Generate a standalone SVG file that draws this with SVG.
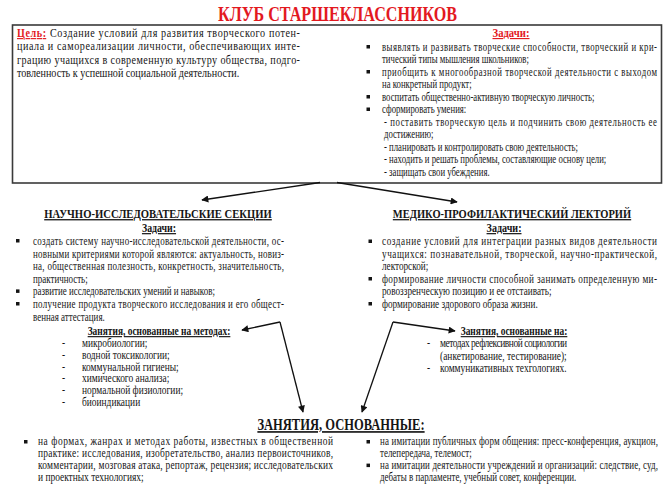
<svg xmlns="http://www.w3.org/2000/svg" width="667" height="492" viewBox="0 0 667 492">
<defs>
<style>
.t{font-family:"Liberation Serif","Times New Roman",serif;font-size:11.5px;fill:#151515}
.b{font-weight:bold}
.u{text-decoration:underline}
.red{fill:#e3191f}
.h{font-family:"Liberation Serif","Times New Roman",serif;font-weight:bold;fill:#151515;text-decoration:underline}
.bul{fill:#151515}
.box{fill:#fff;stroke:#3a3a3a;stroke-width:1.6}
.con{stroke:#111;stroke-width:1.3;fill:none;marker-end:url(#ah)}
</style>
<marker id="ah" viewBox="0 0 10 10" refX="9" refY="5" markerWidth="9" markerHeight="7" markerUnits="userSpaceOnUse" orient="auto">
<path d="M0,0 L10,5 L0,10 z" fill="#111"/>
</marker>
</defs>
<rect width="667" height="492" fill="#fff"/>

<g id="title">
<text x="218" y="21" font-family="Liberation Serif, Times New Roman, serif" font-weight="bold" font-size="20" fill="#e3191f" textLength="239" lengthAdjust="spacingAndGlyphs">КЛУБ СТАРШЕКЛАССНИКОВ</text>
</g>

<g id="club">
<rect class="box" x="12.5" y="25" width="649" height="158"/>
<g transform="translate(17 0) scale(0.88 1)">
<text class="t" x="0" y="37" font-size="12" textLength="321.6" lengthAdjust="spacing"><tspan class="b u red">Цель:</tspan> Создание условий для развития творческого потен-</text>
<text class="t" x="0" y="50.3" font-size="12" textLength="321.6" lengthAdjust="spacing">циала и самореализации личности, обеспечивающих инте-</text>
<text class="t" x="0" y="63.6" font-size="12" textLength="321.6" lengthAdjust="spacing">грацию учащихся в современную культуру общества, подго-</text>
<text class="t" x="0" y="77" font-size="12">товленность к успешной социальной деятельности.</text>
</g>
<text class="t b u red" x="511" y="37" text-anchor="middle" font-size="11.5" textLength="37" lengthAdjust="spacingAndGlyphs">Задачи:</text>
<rect class="bul" x="366.5" y="45" width="3.5" height="3.5"/>
<rect class="bul" x="366.5" y="70" width="3.5" height="3.5"/>
<rect class="bul" x="366.5" y="95" width="3.5" height="3.5"/>
<rect class="bul" x="366.5" y="107.5" width="3.5" height="3.5"/>
<g transform="translate(382 0) scale(0.76 1)">
<text class="t" x="0" y="51" textLength="361.8" lengthAdjust="spacing">выявлять и развивать творческие способности, творческий и кри-</text>
<text class="t" x="0" y="63.5">тический типы мышления школьников;</text>
<text class="t" x="0" y="76" textLength="361.8" lengthAdjust="spacing">приобщить к многообразной творческой деятельности с выходом</text>
<text class="t" x="0" y="88.5">на конкретный продукт;</text>
<text class="t" x="0" y="101">воспитать общественно-активную творческую личность;</text>
<text class="t" x="0" y="113.5">сформировать умения:</text>
<text class="t" x="2.6" y="126" textLength="359.2" lengthAdjust="spacing">- поставить творческую цель и подчинить свою деятельность ее</text>
<text class="t" x="2.6" y="138.5">достижению;</text>
<text class="t" x="2.6" y="151">- планировать и контролировать свою деятельность;</text>
<text class="t" x="2.6" y="163.5">- находить и решать проблемы, составляющие основу цели;</text>
<text class="t" x="2.6" y="176">- защищать свои убеждения.</text>
</g>
</g>

<g id="research">
<g transform="translate(158 0) scale(0.82 1)">
<text class="h" x="0" y="218" font-size="13" text-anchor="middle">НАУЧНО-ИССЛЕДОВАТЕЛЬСКИЕ СЕКЦИИ</text>
<text class="h" x="1.2" y="232" font-size="12" text-anchor="middle">Задачи:</text>
</g>
<rect class="bul" x="16" y="239" width="3.5" height="3.5"/>
<rect class="bul" x="16" y="289.4" width="3.5" height="3.5"/>
<rect class="bul" x="16" y="302" width="3.5" height="3.5"/>
<g transform="translate(33 0) scale(0.78 1)">
<text class="t" x="0" y="245" textLength="321.8" lengthAdjust="spacing">создать систему научно-исследовательской деятельности, ос-</text>
<text class="t" x="0" y="257.6" textLength="321.8" lengthAdjust="spacing">новными критериями которой являются: актуальность, новиз-</text>
<text class="t" x="0" y="270.2" textLength="321.8" lengthAdjust="spacing">на, общественная полезность, конкретность, значительность,</text>
<text class="t" x="0" y="282.8">практичность;</text>
<text class="t" x="0" y="295.4">развитие исследовательских умений и навыков;</text>
<text class="t" x="0" y="308" textLength="321.8" lengthAdjust="spacing">получение продукта творческого исследования и его общест-</text>
<text class="t" x="0" y="320.6">венная аттестация.</text>
</g>
</g>

<g id="research-methods">
<g transform="translate(159 0) scale(0.82 1)">
<text class="h" x="0" y="335" font-size="11.5" text-anchor="middle">Занятия, основанные на методах:</text>
</g>
<g transform="translate(62 0) scale(0.82 1)">
<text class="t" x="0" y="347">-</text>
<text class="t" x="0" y="358.8">-</text>
<text class="t" x="0" y="370.6">-</text>
<text class="t" x="0" y="382.4">-</text>
<text class="t" x="0" y="394.2">-</text>
<text class="t" x="0" y="406">-</text>
<text class="t" x="24.4" y="347">микробиологии;</text>
<text class="t" x="24.4" y="358.8">водной токсикологии;</text>
<text class="t" x="24.4" y="370.6">коммунальной гигиены;</text>
<text class="t" x="24.4" y="382.4">химического анализа;</text>
<text class="t" x="24.4" y="394.2">нормальной физиологии;</text>
<text class="t" x="24.4" y="406">биоиндикации</text>
</g>
</g>

<g id="lecture">
<g transform="translate(512 0) scale(0.84 1)">
<text class="h" x="0" y="218" font-size="12.5" text-anchor="middle">МЕДИКО-ПРОФИЛАКТИЧЕСКИЙ ЛЕКТОРИЙ</text>
<text class="h" x="-9.5" y="232" font-size="12" text-anchor="middle">Задачи:</text>
</g>
<rect class="bul" x="368.5" y="239.5" width="3.5" height="3.5"/>
<rect class="bul" x="368.5" y="277" width="3.5" height="3.5"/>
<rect class="bul" x="368.5" y="302" width="3.5" height="3.5"/>
<g transform="translate(382 0) scale(0.8 1)">
<text class="t" x="0" y="245.5" textLength="343.75" lengthAdjust="spacing">создание условий для интеграции разных видов деятельности</text>
<text class="t" x="0" y="258" textLength="343.75" lengthAdjust="spacing">учащихся: познавательной, творческой, научно-практической,</text>
<text class="t" x="0" y="270.5">лекторской;</text>
<text class="t" x="0" y="283" textLength="343.75" lengthAdjust="spacing">формирование личности способной занимать определенную ми-</text>
<text class="t" x="0" y="295.5">ровоззренческую позицию и ее отстаивать;</text>
<text class="t" x="0" y="308">формирование здорового образа жизни.</text>
</g>
</g>

<g id="lecture-methods">
<g transform="translate(514 0) scale(0.82 1)">
<text class="h" x="0" y="335" font-size="11.5" text-anchor="middle">Занятия, основанные на:</text>
</g>
<g transform="translate(427 0) scale(0.82 1)">
<text class="t" x="0" y="347.5">-</text>
<text class="t" x="0" y="372">-</text>
<text class="t" x="15.9" y="347.5" textLength="154.9" lengthAdjust="spacing">методах рефлексивной социологии</text>
<text class="t" x="15.9" y="359.8">(анкетирование, тестирование);</text>
<text class="t" x="15.9" y="372">коммуникативных техгологиях.</text>
</g>
</g>

<g id="activities">
<g transform="translate(341 0) scale(0.76 1)">
<text class="h" x="0" y="430" font-size="16.5" text-anchor="middle">ЗАНЯТИЯ, ОСНОВАННЫЕ:</text>
</g>
<rect class="bul" x="24" y="440" width="3.5" height="3.5"/>
<rect class="bul" x="366.5" y="440" width="3.5" height="3.5"/>
<rect class="bul" x="366.5" y="463.6" width="3.5" height="3.5"/>
<g transform="translate(38 0) scale(0.82 1)">
<text class="t" x="0" y="445.5" textLength="359.8" lengthAdjust="spacing">на формах, жанрах и методах работы, известных в общественной</text>
<text class="t" x="0" y="457.3" textLength="359.8" lengthAdjust="spacing">практике: исследования, изобретательство, анализ первоисточников,</text>
<text class="t" x="0" y="469.1" textLength="359.8" lengthAdjust="spacing">комментарии, мозговая атака, репортаж, рецензия; исследовательских</text>
<text class="t" x="0" y="481">и проектных технологиях;</text>
</g>
<g transform="translate(380 0) scale(0.78 1)">
<text class="t" x="0" y="445.5" textLength="356.4" lengthAdjust="spacing">на имитации публичных форм общения: пресс-конференция, аукцион,</text>
<text class="t" x="0" y="457.3">телепередача, телемост;</text>
<text class="t" x="0" y="469.1" textLength="356.4" lengthAdjust="spacing">на имитации деятельности учреждений и организаций: следствие, суд,</text>
<text class="t" x="0" y="481">дебаты в парламенте, учебный совет, конференции.</text>
</g>
</g>

<g id="connectors">
<path class="con" d="M320,182.5 L202,200"/>
<path class="con" d="M337,182.5 L457,202"/>
<path class="con" d="M280,322 L242,330"/>
<path class="con" d="M280,322 L303,412"/>
<path class="con" d="M393,322 L455,331"/>
<path class="con" d="M393,322 L362,412"/>
</g>
</svg>
